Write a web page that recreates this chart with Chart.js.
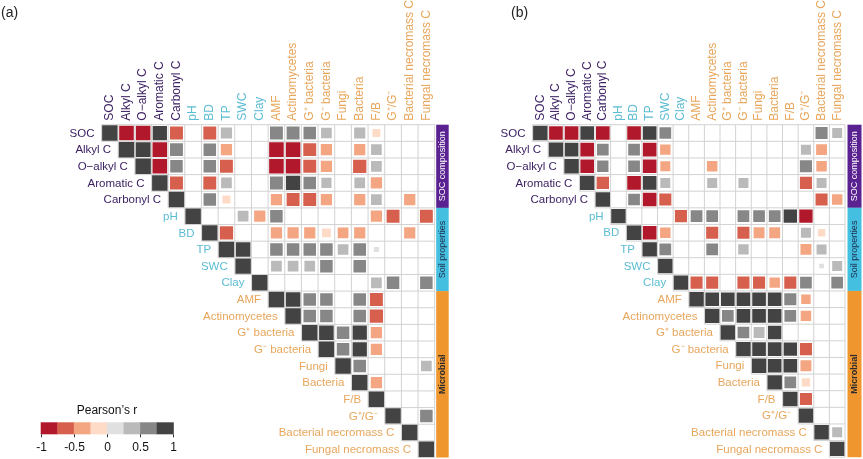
<!DOCTYPE html>
<html>
<head>
<meta charset="utf-8">
<script src="https://cdn.jsdelivr.net/npm/chart.js"></script>
<style>
  html, body { margin: 0; padding: 0; background: #fff; }
  #wrap { position: relative; width: 863px; height: 459px; overflow: hidden; }
  canvas { position: absolute; top: 0; }
  #panelA { left: 0; }
  #panelB { left: 450px; }
</style>
</head>
<body>
<div id="wrap">
  <canvas id="panelA" width="450" height="459"></canvas>
  <canvas id="panelB" width="413" height="459"></canvas>
</div>
<script>
// variables, in matrix order
const variables = [
  "SOC", "Alkyl C", "O\u2212alkyl C", "Aromatic C", "Carbonyl C",
  "pH", "BD", "TP", "SWC", "Clay",
  "AMF", "Actinomycetes", "G\u207A bacteria", "G\u207B bacteria", "Fungi",
  "Bacteria", "F/B", "G\u207A/G\u207B", "Bacterial necromass C", "Fungal necromass C"
];
const groupOf = [0, 0, 0, 0, 0, 1, 1, 1, 1, 1, 2, 2, 2, 2, 2, 2, 2, 2, 2, 2];
const groupNames = ["SOC composition", "Soil properties", "Microbial"];
const groupTextColors = ["#3d2163", "#5bbcd2", "#e8a65c"];
const groupBarColors = ["#5a2290", "#44bfe0", "#f0962f"];
const groupBarText = ["#ffffff", "#1d2b4a", "#2b2b2b"];

// Pearson's r, upper triangle only, null = not shown
const _ = null;
const corrA = [
  [1, -0.85, -0.85, 0.8, -0.6, _, -0.6, 0.4, _, _, 0.6, 0.6, 0.55, 0.35, _, 0.4, -0.15, _, _, _],
  [_, 1, 0.9, -0.85, 0.6, _, 0.55, -0.4, _, _, -0.85, -0.85, -0.6, -0.4, _, -0.4, 0.35, _, _, _],
  [_, _, 1, -0.85, 0.55, _, 0.55, -0.6, _, _, -0.85, -0.85, -0.6, -0.4, _, -0.65, 0.35, _, _, _],
  [_, _, _, 1, -0.6, _, -0.6, 0.35, _, _, 0.6, 0.8, 0.55, 0.3, _, 0.35, -0.4, _, _, _],
  [_, _, _, _, 1, _, 0.55, -0.15, _, _, -0.4, -0.6, -0.6, -0.4, _, -0.4, 0.35, _, -0.4, _],
  [_, _, _, _, _, 1, _, _, 0.35, -0.4, 0.55, _, _, _, _, _, -0.4, -0.6, _, -0.6],
  [_, _, _, _, _, _, 1, -0.65, _, _, -0.4, -0.4, -0.4, -0.2, -0.35, -0.4, _, _, -0.4, _],
  [_, _, _, _, _, _, _, 1, 0.85, _, 0.55, 0.55, 0.55, 0.55, 0.35, 0.55, 0.04, _, _, _],
  [_, _, _, _, _, _, _, _, 1, _, 0.35, 0.35, 0.35, 0.55, _, 0.55, _, _, _, _],
  [_, _, _, _, _, _, _, _, _, 1, _, _, _, _, _, _, 0.35, 0.55, _, 0.55],
  [_, _, _, _, _, _, _, _, _, _, 1, 0.85, 0.55, 0.55, _, 0.55, -0.6, _, _, _],
  [_, _, _, _, _, _, _, _, _, _, _, 1, 0.55, 0.55, _, 0.55, -0.65, _, _, _],
  [_, _, _, _, _, _, _, _, _, _, _, _, 1, 0.85, 0.55, 0.8, -0.4, _, _, _],
  [_, _, _, _, _, _, _, _, _, _, _, _, _, 1, 0.55, 0.8, -0.4, _, _, _],
  [_, _, _, _, _, _, _, _, _, _, _, _, _, _, 1, 0.55, _, _, _, 0.35],
  [_, _, _, _, _, _, _, _, _, _, _, _, _, _, _, 1, -0.4, _, _, _],
  [_, _, _, _, _, _, _, _, _, _, _, _, _, _, _, _, 1, _, _, _],
  [_, _, _, _, _, _, _, _, _, _, _, _, _, _, _, _, _, 1, _, 0.55],
  [_, _, _, _, _, _, _, _, _, _, _, _, _, _, _, _, _, _, 1, _],
  [_, _, _, _, _, _, _, _, _, _, _, _, _, _, _, _, _, _, _, 1]
];
const corrB = [
  [1, -0.85, -0.85, 0.85, -0.85, _, -0.85, 0.85, 0.55, _, _, _, _, _, _, _, _, _, 0.6, 0.35],
  [_, 1, 0.85, -0.85, 0.55, _, 0.55, -0.85, -0.4, _, _, _, _, _, _, _, _, 0.35, -0.45, _],
  [_, _, 1, -0.85, 0.5, _, 0.55, -0.85, -0.35, _, _, -0.4, _, _, _, _, _, 0.6, -0.4, _],
  [_, _, _, 1, -0.65, _, -0.85, 0.85, 0.35, _, _, 0.35, _, 0.35, _, _, _, -0.6, 0.35, _],
  [_, _, _, _, 1, _, 0.55, -0.85, -0.6, _, _, _, _, _, _, _, _, _, -0.6, -0.4],
  [_, _, _, _, _, 1, _, _, _, -0.6, 0.55, 0.55, _, 0.55, 0.55, 0.55, 0.8, -0.8, _, _],
  [_, _, _, _, _, _, 1, -0.85, -0.4, _, _, -0.6, _, -0.6, -0.45, -0.45, _, 0.35, -0.15, _],
  [_, _, _, _, _, _, _, 1, 0.55, _, _, 0.55, _, 0.4, _, _, _, -0.45, 0.35, _],
  [_, _, _, _, _, _, _, _, 1, _, _, _, _, _, _, _, _, _, 0.04, 0.35],
  [_, _, _, _, _, _, _, _, _, 1, -0.6, -0.6, _, -0.6, -0.6, -0.4, -0.6, 0.55, _, 0.55],
  [_, _, _, _, _, _, _, _, _, _, 1, 0.85, 0.85, 0.85, 0.85, 0.85, 0.6, -0.3, _, _],
  [_, _, _, _, _, _, _, _, _, _, _, 1, 0.55, 0.85, 0.85, 0.85, 0.55, -0.4, _, _],
  [_, _, _, _, _, _, _, _, _, _, _, _, 1, 0.55, 0.45, 0.8, _, _, _, _],
  [_, _, _, _, _, _, _, _, _, _, _, _, _, 1, 0.85, 0.85, 0.8, -0.6, _, _],
  [_, _, _, _, _, _, _, _, _, _, _, _, _, _, 1, 0.85, 0.85, -0.45, _, _],
  [_, _, _, _, _, _, _, _, _, _, _, _, _, _, _, 1, 0.55, -0.2, _, _],
  [_, _, _, _, _, _, _, _, _, _, _, _, _, _, _, _, 1, -0.6, _, _],
  [_, _, _, _, _, _, _, _, _, _, _, _, _, _, _, _, _, 1, _, _],
  [_, _, _, _, _, _, _, _, _, _, _, _, _, _, _, _, _, _, 1, 0.35],
  [_, _, _, _, _, _, _, _, _, _, _, _, _, _, _, _, _, _, _, 1]
];

// colour scale (8 bins from -1 to 1) and legend ticks
const binColors = ["#b2182b", "#d6604d", "#f4a582", "#fddbc7", "#e0e0e0", "#bababa", "#878787", "#434343"];
const legendTicks = [-1, -0.5, 0, 0.5, 1];
const legendTickLabels = ["-1", "-0.5", "0", "0.5", "1"];

const FONT = "'Liberation Sans', Arial, sans-serif";

function colorFor(v) {
  const i = Math.min(7, Math.floor((v + 1) / 0.25));
  return binColors[i];
}

function cellSize(chart) {
  const x = chart.scales.x, y = chart.scales.y;
  return Math.min(Math.abs(x.getPixelForValue(1) - x.getPixelForValue(0)),
                  Math.abs(y.getPixelForValue(1) - y.getPixelForValue(0)));
}

// grid of the upper triangle (staircase)
const gridPlugin = {
  id: "grid",
  beforeDatasetsDraw(chart) {
    const ctx = chart.ctx, x = chart.scales.x, y = chart.scales.y;
    const n = variables.length;
    ctx.save();
    ctx.strokeStyle = "#d2d2d2";
    ctx.lineWidth = 1;
    ctx.beginPath();
    for (let k = 0; k <= n; k++) {
      const py = y.getPixelForValue(k - 0.5);
      ctx.moveTo(x.getPixelForValue(Math.max(k - 1, 0) - 0.5), py);
      ctx.lineTo(x.getPixelForValue(n - 0.5), py);
      const px = x.getPixelForValue(k - 0.5);
      ctx.moveTo(px, y.getPixelForValue(-0.5));
      ctx.lineTo(px, y.getPixelForValue(Math.min(k + 1, n) - 0.5));
    }
    ctx.stroke();
    ctx.restore();
  }
};

// labels, side bars, panel tag and colour bar
const textPlugin = {
  id: "texts",
  afterDraw(chart) {
    const ctx = chart.ctx, x = chart.scales.x, y = chart.scales.y;
    const area = chart.chartArea;
    const opt = chart.options.plugins.texts;
    ctx.save();

    // column labels
    ctx.font = "12px " + FONT;
    variables.forEach((name, i) => {
      ctx.save();
      ctx.translate(x.getPixelForValue(i), area.top - 4);
      ctx.rotate(-Math.PI / 2);
      ctx.fillStyle = groupTextColors[groupOf[i]];
      ctx.textAlign = "left";
      ctx.textBaseline = "middle";
      ctx.fillText(name, 0, 0);
      ctx.restore();
    });

    // row labels
    ctx.font = "11.5px " + FONT;
    ctx.textAlign = "right";
    ctx.textBaseline = "middle";
    variables.forEach((name, i) => {
      ctx.fillStyle = groupTextColors[groupOf[i]];
      ctx.fillText(name, x.getPixelForValue(i - 0.5) - 7, y.getPixelForValue(i) + 0.5);
    });

    // group bars
    const bounds = [[0, 4], [5, 9], [10, 19]];
    bounds.forEach(([a, b], g) => {
      const top = y.getPixelForValue(a - 0.5), bot = y.getPixelForValue(b + 0.5);
      const left = area.right + opt.barGap;
      ctx.fillStyle = groupBarColors[g];
      ctx.fillRect(left, top, opt.barWidth, bot - top);
      ctx.save();
      ctx.translate(left + opt.barWidth / 2, (top + bot) / 2);
      ctx.rotate(-Math.PI / 2);
      ctx.fillStyle = groupBarText[g];
      ctx.font = (g === 2 ? "bold " : "") + "9px " + FONT;
      ctx.textAlign = "center";
      ctx.textBaseline = "middle";
      ctx.fillText(groupNames[g], 0, 0.5);
      ctx.restore();
    });

    // panel tag
    ctx.fillStyle = "#222";
    ctx.font = "14px " + FONT;
    ctx.textAlign = "left";
    ctx.textBaseline = "top";
    ctx.fillText(opt.tag, opt.tagX, 6);

    // colour bar
    if (opt.legend) {
      const lx = 40.7, lw = 132.6, ly = 422.3, lh = 12;
      ctx.fillStyle = "#111";
      ctx.font = "12px " + FONT;
      ctx.textAlign = "center";
      ctx.textBaseline = "alphabetic";
      ctx.fillText("Pearson\u2019s r", lx + lw / 2, 414);
      binColors.forEach((c, i) => {
        ctx.fillStyle = c;
        ctx.fillRect(lx + i * lw / 8, ly, lw / 8 + 0.5, lh);
      });
      ctx.strokeStyle = "#333";
      ctx.lineWidth = 1;
      ctx.textBaseline = "middle";
      legendTicks.forEach((t, i) => {
        const px = Math.round(lx + (t + 1) / 2 * lw) + 0.5;
        ctx.beginPath();
        ctx.moveTo(px, ly + lh);
        ctx.lineTo(px, ly + lh + 3);
        ctx.stroke();
        ctx.fillStyle = "#111";
        ctx.fillText(legendTickLabels[i], px, 448);
      });
    }
    ctx.restore();
  }
};

function buildPanel(canvasId, corr, padding, texts) {
  const cells = [];
  corr.forEach((row, r) => row.forEach((v, c) => {
    if (v !== null && c >= r) cells.push({ x: c, y: r, v: v });
  }));
  const n = variables.length;
  // square side grows with |r|; strong ones almost fill the cell
  const radius = (ctx) => {
    const side = Math.pow(Math.abs(ctx.raw.v), 0.35) * (cellSize(ctx.chart) - 1.2);
    return side / (2 * Math.SQRT1_2);
  };
  return new Chart(document.getElementById(canvasId), {
    type: "scatter",
    data: {
      datasets: [{
        data: cells,
        pointStyle: "rect",
        backgroundColor: (ctx) => colorFor(ctx.raw.v),
        borderWidth: 0,
        pointRadius: radius,
        pointHoverRadius: radius
      }]
    },
    options: {
      responsive: false,
      animation: false,
      events: [],
      layout: { padding: padding },
      scales: {
        x: { type: "linear", min: -0.5, max: n - 0.5, display: false },
        y: { type: "linear", min: -0.5, max: n - 0.5, reverse: true, display: false }
      },
      plugins: {
        legend: { display: false },
        tooltip: { enabled: false },
        texts: texts
      }
    },
    plugins: [gridPlugin, textPlugin]
  });
}

buildPanel("panelA", corrA,
  { left: 101.5, right: 15.3, top: 124.7, bottom: 1.5 },
  { tag: "(a)", tagX: 1, legend: true, barGap: 1.5, barWidth: 12.5 });
buildPanel("panelB", corrB,
  { left: 82.5, right: 18, top: 124.7, bottom: 1.8 },
  { tag: "(b)", tagX: 61, legend: false, barGap: 2.5, barWidth: 14 });
</script>
</body>
</html>
